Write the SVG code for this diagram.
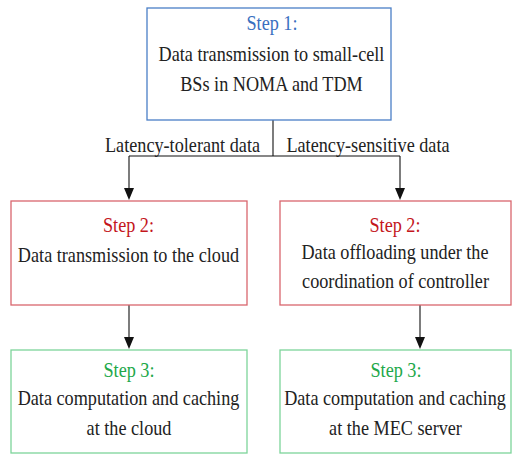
<svg xmlns="http://www.w3.org/2000/svg" width="512" height="454" viewBox="0 0 512 454" font-family="Liberation Serif" font-size="20">
<style>
text{fill:#222;text-anchor:middle}
.b{fill:none;stroke:#4a7fc7;stroke-width:1.3}
.r{fill:none;stroke:#d9666e;stroke-width:1.3}
.g{fill:none;stroke:#7dd49a;stroke-width:1.3}
.tb{fill:#3a6fc0}
.tr{fill:#c4161c}
.tg{fill:#22a84a}
.c{fill:none;stroke:#111;stroke-width:1.1}
.h{fill:#111}
</style>
<rect width="512" height="454" fill="#fff"/>
<g id="connectors">
<path class="c" d="M273,120 V156"/>
<path class="c" d="M129,156 H400"/>
<path class="c" d="M129,156 V188"/>
<path class="h" d="M124,188 L134,188 L129,200 Z"/>
<path class="c" d="M400,156 V188"/>
<path class="h" d="M395,188 L405,188 L400,200 Z"/>
<path class="c" d="M129,305 V337"/>
<path class="h" d="M124,337 L134,337 L129,349 Z"/>
<path class="c" d="M420,305 V337"/>
<path class="h" d="M415,337 L425,337 L420,349 Z"/>
<text transform="translate(182.5,152) scale(0.91,1)">Latency-tolerant data</text>
<text transform="translate(368,152) scale(0.91,1)">Latency-sensitive data</text>
</g>
<g id="step1">
<rect class="b" x="147" y="8" width="244" height="112"/>
<text class="tb" transform="translate(272,30) scale(0.91,1)">Step 1:</text>
<text transform="translate(271.5,61) scale(0.91,1)">Data transmission to small-cell</text>
<text transform="translate(271.5,91) scale(0.91,1)">BSs in NOMA and TDM</text>
</g>
<g id="step2-left">
<rect class="r" x="11" y="201" width="236" height="104"/>
<text class="tr" transform="translate(128.5,232) scale(0.91,1)">Step 2:</text>
<text transform="translate(128.5,262) scale(0.91,1)">Data transmission to the cloud</text>
</g>
<g id="step2-right">
<rect class="r" x="280" y="201" width="231" height="104"/>
<text class="tr" transform="translate(395,232) scale(0.91,1)">Step 2:</text>
<text transform="translate(395,259) scale(0.91,1)">Data offloading under the</text>
<text transform="translate(395.5,288) scale(0.91,1)">coordination of controller</text>
</g>
<g id="step3-left">
<rect class="g" x="11" y="350" width="236" height="103"/>
<text class="tg" transform="translate(129,377) scale(0.91,1)">Step 3:</text>
<text transform="translate(128.5,405) scale(0.91,1)">Data computation and caching</text>
<text transform="translate(129,435) scale(0.91,1)">at the cloud</text>
</g>
<g id="step3-right">
<rect class="g" x="280" y="350" width="231" height="103"/>
<text class="tg" transform="translate(396,377) scale(0.91,1)">Step 3:</text>
<text transform="translate(395,405) scale(0.91,1)">Data computation and caching</text>
<text transform="translate(395.5,435) scale(0.91,1)">at the MEC server</text>
</g>
</svg>
